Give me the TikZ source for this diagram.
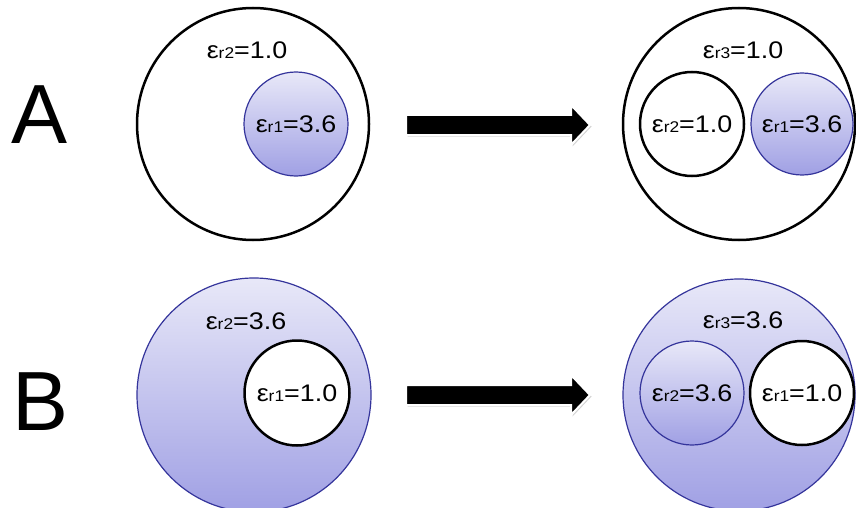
\documentclass[tikz,border=0pt]{standalone}
\usepackage{fontspec}
\setmainfont{Liberation Sans}
\usetikzlibrary{shadows}
\definecolor{blueedge}{RGB}{52,52,155}
\definecolor{bluetop}{RGB}{232,232,248}
\definecolor{bluebot}{RGB}{160,160,228}
\newcommand{\epslabel}[2]{\scalebox{1.12}[1]{ε{\fontsize{15.5}{15.5}\selectfont r#1}=#2}}
\tikzset{
  blackring/.style={circle, draw=black, line width=2.5pt, fill=white, inner sep=0pt, minimum size=#1, font=\fontsize{24}{24}\selectfont},
  bluedisk/.style={circle, draw=blueedge, line width=1.2pt, top color=bluetop, bottom color=bluebot, inner sep=0pt, minimum size=#1, font=\fontsize{24}{24}\selectfont},
  lbl/.style={font=\fontsize{24}{24}\selectfont, inner sep=0pt},
  biglabel/.style={font=\fontsize{84}{84}\selectfont, inner sep=0pt},
  blockarrow/.style={fill=black, draw=white, line width=2pt, line join=miter,
    drop shadow={shadow xshift=1.5pt, shadow yshift=-1.5pt, opacity=0.35, fill=gray}}
}
\begin{document}
\begin{tikzpicture}[x=1pt, y=-1pt]
\useasboundingbox (0,0) rectangle (856,508);
\clip (0,0) rectangle (856,508);
% row labels
\node[biglabel] (labA) at (40,115) {A};
\node[biglabel] (labB) at (41,402) {B};
% ---- Row A left
\node[blackring=232pt] (outerAL) at (253,124) {};
\node[lbl] (tAL) at (247,50) {\epslabel{2}{1.0}};
\node[bluedisk=104pt] (innerAL) at (296,124) {\epslabel{1}{3.6}};
% ---- Row A right
\node[blackring=232pt] (outerAR) at (739,124) {};
\node[lbl] (tAR) at (743,50) {\epslabel{3}{1.0}};
\node[blackring=104pt] (innerAR2) at (692,124) {\epslabel{2}{1.0}};
\node[bluedisk=102pt] (innerAR1) at (802,124) {\epslabel{1}{3.6}};
% ---- Row B left
\node[bluedisk=234pt] (outerBL) at (254,395) {};
\node[lbl] (tBL) at (246,321) {\epslabel{2}{3.6}};
\node[blackring=105pt] (innerBL) at (297,393) {\epslabel{1}{1.0}};
% ---- Row B right
\node[bluedisk=232pt] (outerBR) at (739,395) {};
\node[lbl] (tBR) at (743,320) {\epslabel{3}{3.6}};
\node[bluedisk=104pt] (innerBR2) at (692,393) {\epslabel{2}{3.6}};
\node[blackring=104pt] (innerBR1) at (802,393) {\epslabel{1}{1.0}};
% ---- block arrows
\path[blockarrow] (406,115) -- (571,115) -- (571,105) -- (590,125) -- (571,145) -- (571,135) -- (406,135) -- cycle;
\path[blockarrow] (406,385) -- (571,385) -- (571,375) -- (590,395) -- (571,415) -- (571,405) -- (406,405) -- cycle;
\end{tikzpicture}
\end{document}
